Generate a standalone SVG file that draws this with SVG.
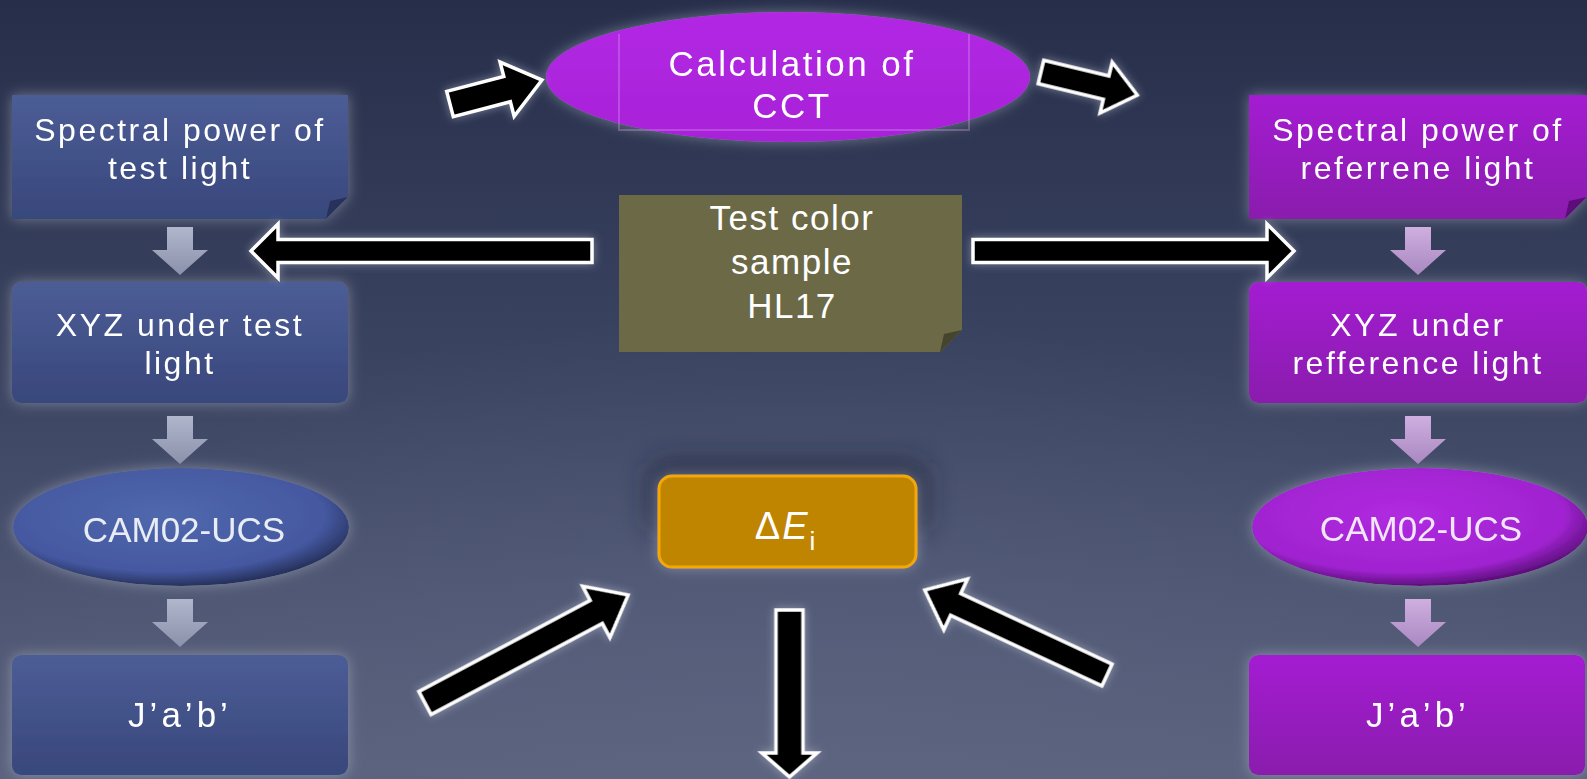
<svg xmlns="http://www.w3.org/2000/svg" width="1587" height="779" viewBox="0 0 1587 779">
<defs>
<linearGradient id="bg" x1="0" y1="0" x2="0" y2="1">
<stop offset="0" stop-color="#262e4a"/>
<stop offset="0.5" stop-color="#3c4562"/>
<stop offset="1" stop-color="#5a627e"/>
</linearGradient>
<radialGradient id="bgr" cx="0.5" cy="1" r="0.6">
<stop offset="0" stop-color="#5e6682" stop-opacity="0.6"/>
<stop offset="1" stop-color="#5e6682" stop-opacity="0"/>
</radialGradient>
<linearGradient id="blueBox" x1="0" y1="0" x2="0" y2="1">
<stop offset="0" stop-color="#4c5d96"/>
<stop offset="1" stop-color="#38477c"/>
</linearGradient>
<linearGradient id="purpleBox" x1="0" y1="0" x2="0" y2="1">
<stop offset="0" stop-color="#a41fd2"/>
<stop offset="1" stop-color="#8a1aad"/>
</linearGradient>
<radialGradient id="blueEll" cx="0.45" cy="0.4" r="0.6">
<stop offset="0" stop-color="#5068ad"/>
<stop offset="0.8" stop-color="#4458a0"/>
<stop offset="1" stop-color="#27325e"/>
</radialGradient>
<radialGradient id="purpleEll" cx="0.45" cy="0.4" r="0.6">
<stop offset="0" stop-color="#b02ae0"/>
<stop offset="0.8" stop-color="#a023d0"/>
<stop offset="1" stop-color="#5e0f7e"/>
</radialGradient>
<linearGradient id="topEll" x1="0" y1="0" x2="0" y2="1">
<stop offset="0" stop-color="#b228e4"/>
<stop offset="1" stop-color="#a822d8"/>
</linearGradient>
<linearGradient id="grayArrow" x1="0" y1="0" x2="0" y2="1">
<stop offset="0" stop-color="#b0b6cc"/>
<stop offset="1" stop-color="#8a91aa"/>
</linearGradient>
<linearGradient id="lavArrow" x1="0" y1="0" x2="0" y2="1">
<stop offset="0" stop-color="#cfaee0"/>
<stop offset="1" stop-color="#a888c0"/>
</linearGradient>
<filter id="glow" x="-20%" y="-30%" width="140%" height="160%">
<feGaussianBlur in="SourceAlpha" stdDeviation="7" result="b"/>
<feFlood flood-color="#c8ccd8" flood-opacity="0.45"/>
<feComposite in2="b" operator="in" result="g"/>
<feMerge><feMergeNode in="g"/><feMergeNode in="SourceGraphic"/></feMerge>
</filter>
<filter id="aglow" x="-20%" y="-40%" width="140%" height="180%">
<feGaussianBlur in="SourceAlpha" stdDeviation="5" result="b"/>
<feFlood flood-color="#d8dbe6" flood-opacity="0.45"/>
<feComposite in2="b" operator="in" result="g"/>
<feMerge><feMergeNode in="g"/><feMergeNode in="SourceGraphic"/></feMerge>
</filter>
<filter id="shadowTop" x="-30%" y="-60%" width="160%" height="200%">
<feGaussianBlur stdDeviation="14"/>
</filter>
</defs>
<style>
text { font-family: "Liberation Sans", Arial, sans-serif; fill: #ffffff; text-anchor: middle; }
.t33 { font-size: 32px; letter-spacing: 2.5px; }
.t35 { font-size: 35px; }
.big { fill: #000000; stroke: #ffffff; stroke-width: 3.5; stroke-linejoin: miter; }
.fold-b { fill: #28335c; }
.fold-p { fill: #5c0f7a; }
.fold-o { fill: #45442c; }
</style>

<rect x="0" y="0" width="1587" height="779" fill="url(#bg)"/>
<rect x="0" y="0" width="1587" height="779" fill="url(#bgr)"/>

<!-- Calculation of CCT -->
<g id="cct" filter="url(#glow)">
<ellipse cx="788" cy="77" rx="242" ry="65" fill="url(#topEll)"/>
<path d="M619,34 V130 H969 V34" fill="none" stroke="#e0a8f4" stroke-opacity="0.3" stroke-width="2"/>
<text x="792" y="76" style="font-size:35px;letter-spacing:2.5px">Calculation of</text>
<text x="792" y="118" style="font-size:35px;letter-spacing:2.5px">CCT</text>
</g>

<!-- Left column -->
<g id="spd-test" filter="url(#glow)">
<path d="M12,95 H348 V197 L326,219 H12 Z" fill="url(#blueBox)"/>
<path d="M348,197 L326,219 L330,201 Z" class="fold-b"/>
<text x="180" y="141" class="t33">Spectral power of</text>
<text x="180" y="179" class="t33">test light</text>
</g>
<g id="xyz-test" filter="url(#glow)">
<rect x="12" y="282" width="336" height="121" rx="9" fill="url(#blueBox)"/>
<text x="180" y="336" class="t33">XYZ under test</text>
<text x="180" y="374" class="t33">light</text>
</g>
<g id="cam-test" filter="url(#glow)">
<ellipse cx="181" cy="527" rx="168" ry="59" fill="url(#blueEll)"/>
<text x="184" y="542" class="t35" style="fill:#e8ecf4">CAM02-UCS</text>
</g>
<g id="jab-test" filter="url(#glow)">
<rect x="12" y="655" width="336" height="120" rx="9" fill="url(#blueBox)"/>
<text x="180" y="727" class="t35" style="letter-spacing:4px">J’a’b’</text>
</g>

<!-- Right column -->
<g id="spd-ref" filter="url(#glow)">
<path d="M1249,95 H1587 V197 L1565,219 H1249 Z" fill="url(#purpleBox)"/>
<path d="M1587,197 L1565,219 L1569,201 Z" class="fold-p"/>
<text x="1418" y="141" class="t33">Spectral power of</text>
<text x="1418" y="179" class="t33">referrene light</text>
</g>
<g id="xyz-ref" filter="url(#glow)">
<rect x="1249" y="282" width="338" height="121" rx="9" fill="url(#purpleBox)"/>
<text x="1418" y="336" class="t33">XYZ under</text>
<text x="1418" y="374" class="t33">refference light</text>
</g>
<g id="cam-ref" filter="url(#glow)">
<ellipse cx="1420" cy="527" rx="168" ry="59" fill="url(#purpleEll)"/>
<text x="1421" y="541" class="t35" style="fill:#f0e6f6">CAM02-UCS</text>
</g>
<g id="jab-ref" filter="url(#glow)">
<rect x="1249" y="655" width="336" height="120" rx="9" fill="url(#purpleBox)"/>
<text x="1418" y="727" class="t35" style="letter-spacing:4px">J’a’b’</text>
</g>

<!-- Center -->
<g id="sample">
<path d="M619,195 H962 V330 L940,352 H619 Z" fill="#6b6946"/>
<path d="M962,330 L940,352 L944,334 Z" class="fold-o"/>
<text x="792" y="230" class="t35" style="letter-spacing:1.5px">Test color</text>
<text x="792" y="274" class="t35" style="letter-spacing:1.5px">sample</text>
<text x="792" y="318" class="t35" style="letter-spacing:1.5px">HL17</text>
</g>
<g id="delta-e">
<rect x="650" y="462" width="276" height="70" rx="14" fill="#1c2238" opacity="0.7" filter="url(#shadowTop)"/>
<g filter="url(#glow)">
<rect x="659" y="476" width="257" height="91" rx="13" fill="#c08500" stroke="#f5a800" stroke-width="3"/>
</g>
<text x="786" y="539" style="font-size:38px;letter-spacing:2px">Δ<tspan font-style="italic">E</tspan><tspan font-size="26" dy="11">i</tspan></text>
</g>

<!-- Connectors -->
<g id="connectors">
<g filter="url(#aglow)">
<path class="big" transform="translate(450,104) rotate(-14.6)" d="M0,-13 H59 V-28 L95,0 L59,28 V13 H0 Z"/>
<path class="big" transform="translate(1041,72) rotate(13.5)" d="M0,-12 H67 V-26 L99,0 L67,26 V12 H0 Z"/>
<path class="big" transform="translate(592,251) rotate(180)" d="M0,-11.5 H314 V-27 L341,0 L314,27 V11.5 H0 Z"/>
<path class="big" transform="translate(973,251)" d="M0,-11.5 H294 V-27 L321,0 L294,27 V11.5 H0 Z"/>
<path class="big" transform="translate(425,703) rotate(-28)" d="M0,-13 H194 V-29 L230,0 L194,29 V13 H0 Z"/>
<path class="big" transform="translate(1107,675) rotate(205)" d="M0,-12 H167 V-28 L201,0 L167,28 V12 H0 Z"/>
<path class="big" transform="translate(789.5,610) rotate(90)" d="M0,-13.5 H143 V-27.5 L167,0 L143,27.5 V13.5 H0 Z"/>
</g>
<g fill="url(#grayArrow)">
<path d="M167,227 H193 V250 H208 L180,275 L152,250 H167 Z"/>
<path d="M167,416 H193 V439 H208 L180,464 L152,439 H167 Z"/>
<path d="M167,599 H193 V622 H208 L180,647 L152,622 H167 Z"/>
</g>
<g fill="url(#lavArrow)">
<path d="M1405,227 H1431 V250 H1446 L1418,275 L1390,250 H1405 Z"/>
<path d="M1405,416 H1431 V439 H1446 L1418,464 L1390,439 H1405 Z"/>
<path d="M1405,599 H1431 V622 H1446 L1418,647 L1390,622 H1405 Z"/>
</g>
</g>
</svg>
